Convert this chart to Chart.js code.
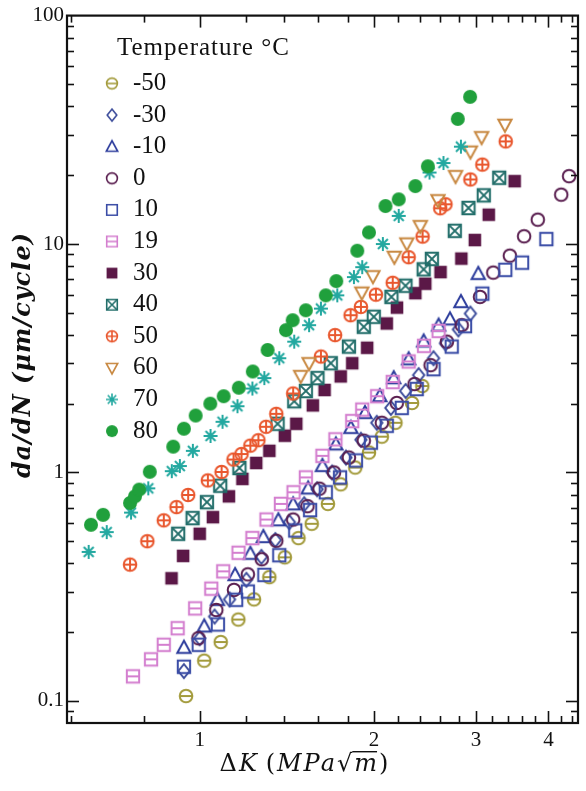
<!DOCTYPE html>
<html><head><meta charset="utf-8">
<script src="https://cdn.jsdelivr.net/npm/chart.js@4"></script>
<style>html,body{margin:0;padding:0;background:#fff;}canvas{display:block;}</style>
</head><body>
<canvas id="c" width="586" height="791"></canvas>
<script>
// ---- data (ΔK in MPa√m, da/dN in μm/cycle) ----
const temps = ['-50','-30','-10','0','10','19','30','40','50','60','70','80'];
const k_m50 = [0.947,1.018,1.087,1.166,1.241,1.319,1.403,1.481,1.561,1.665,1.752,1.856,1.960,2.063,2.178,2.326,2.423];
const v_m50 = [0.105,0.150,0.181,0.227,0.278,0.348,0.425,0.516,0.596,0.728,0.887,1.051,1.222,1.434,1.650,2.015,2.389];
const k_m30 = [0.939,1.000,1.061,1.126,1.204,1.278,1.351,1.428,1.515,1.595,1.693,1.789,1.898,2.022,2.138,2.268,2.388,2.534,2.657,2.797,2.934];
const v_m30 = [0.135,0.188,0.234,0.278,0.339,0.427,0.506,0.606,0.726,0.844,1.000,1.162,1.391,1.650,1.917,2.273,2.668,3.162,3.675,4.228,4.963];
const k_m10 = [0.939,1.018,1.073,1.151,1.223,1.288,1.367,1.450,1.539,1.629,1.718,1.824,1.929,2.046,2.163,2.295,2.436,2.585,2.705,2.825,3.027];
const v_m10 = [0.171,0.212,0.277,0.356,0.441,0.522,0.618,0.726,0.852,1.069,1.328,1.569,1.823,2.162,2.588,3.131,3.749,4.400,4.683,5.578,7.407];
const k_0 = [0.995,1.068,1.146,1.211,1.280,1.356,1.450,1.535,1.610,1.706,1.810,1.920,2.063,2.189,2.350,2.504,2.672,2.834,3.048,3.213,3.432,3.632,3.835,4.210,4.343];
const v_0 = [0.188,0.250,0.306,0.358,0.417,0.502,0.622,0.712,0.849,1.000,1.162,1.378,1.650,2.015,2.438,2.949,3.738,4.413,5.866,7.496,8.895,10.81,12.78,16.45,19.82];
const k_10 = [0.939,0.996,1.075,1.156,1.211,1.293,1.372,1.462,1.551,1.651,1.747,1.861,1.975,2.104,2.233,2.370,2.534,2.724,2.872,3.076,3.370,3.603,3.968];
const v_10 = [0.141,0.176,0.216,0.277,0.301,0.356,0.434,0.557,0.684,0.819,0.951,1.128,1.350,1.601,1.917,2.319,2.833,3.555,4.370,6.063,7.708,8.287,10.51];
const k_19 = [0.767,0.824,0.867,0.916,0.982,1.047,1.098,1.167,1.233,1.304,1.381,1.452,1.525,1.629,1.715,1.834,1.908,2.025,2.154,2.295,2.440,2.585];
const v_19 = [0.128,0.152,0.176,0.208,0.254,0.310,0.369,0.445,0.516,0.622,0.728,0.819,0.951,1.182,1.396,1.678,1.884,2.156,2.487,3.060,3.584,4.165];
const k_30 = [0.894,0.936,1.000,1.054,1.123,1.185,1.252,1.319,1.403,1.468,1.568,1.643,1.752,1.834,1.946,2.104,2.191,2.357,2.452,2.605,2.830,2.986,3.156,3.498];
const v_30 = [0.344,0.431,0.539,0.637,0.786,0.937,1.100,1.243,1.448,1.633,1.966,2.296,2.633,3.007,3.513,4.488,5.269,6.093,6.700,7.534,8.635,10.41,13.44,18.85];
const k_40 = [0.918,0.972,1.029,1.085,1.171,1.363,1.456,1.525,1.597,1.684,1.810,1.920,1.998,2.143,2.266,2.436,2.517,2.757,2.911,3.094,3.290];
const v_40 = [0.539,0.631,0.741,0.875,1.046,1.633,2.050,2.273,2.588,3.007,3.555,4.342,4.801,5.866,6.569,7.746,8.608,11.42,14.38,16.33,19.50];
const k_50 = [0.758,0.812,0.867,0.912,0.955,1.033,1.091,1.144,1.181,1.223,1.263,1.302,1.356,1.450,1.619,1.713,1.822,1.898,2.015,2.154,2.295,2.426,2.602,2.657,2.934,3.076,3.376];
const v_50 = [0.395,0.500,0.617,0.705,0.797,0.923,1.005,1.139,1.204,1.310,1.384,1.585,1.805,2.217,3.217,3.994,4.878,5.306,6.002,6.767,8.755,10.78,14.34,14.93,19.17,22.27,28.13];
const k_60 = [1.494,1.545,1.905,1.991,2.168,2.278,2.404,2.579,2.765,2.934,3.067,3.365];
const v_60 = [2.642,3.007,6.124,7.224,8.780,10.05,11.97,15.54,19.82,25.37,29.34,33.24];
const k_70 = [0.643,0.691,0.761,0.815,0.895,0.924,0.973,1.044,1.095,1.162,1.233,1.293,1.372,1.456,1.545,1.619,1.728,1.846,1.908,2.071,2.206,2.494,2.636,2.825];
const v_70 = [0.449,0.548,0.667,0.852,1.013,1.067,1.243,1.444,1.666,1.950,2.330,2.588,3.162,3.738,4.413,5.217,5.960,7.166,7.919,10.0,13.28,20.56,22.62,26.68];
const k_80 = [0.649,0.681,0.758,0.773,0.786,0.820,0.900,0.939,0.984,1.043,1.100,1.168,1.235,1.310,1.409,1.447,1.525,1.651,1.721,1.871,1.960,2.093,2.206,2.357,2.477,2.790,2.930];
const v_80 = [0.590,0.652,0.735,0.786,0.841,1.007,1.297,1.554,1.775,2.001,2.156,2.349,2.768,3.437,4.198,4.640,5.129,5.960,6.883,9.35,11.24,14.67,15.69,17.93,21.90,35.3,44.1];

const X_LABELS = [1,2,3,4];
const Y_LABELS = [0.1,1,10,100];
const X_MIN = 0.59, X_MAX = 4.5, Y_MIN = 0.08, Y_MAX = 100;

const seriesK = [k_m50,k_m30,k_m10,k_0,k_10,k_19,k_30,k_40,k_50,k_60,k_70,k_80];
const seriesV = [v_m50,v_m30,v_m10,v_0,v_10,v_19,v_30,v_40,v_50,v_60,v_70,v_80];

// ---- styles ----
const colors = ['#a39b3c','#3b4b9a','#2c3c9c','#5a1f50','#3a4ca6','#d47fcf','#5b1847','#226e6a','#e9582f','#c88942','#23a8a0','#20a03c'];
const markers = ['circleH','diamond','triangle','circle','square','squareH','squareFilled','squareX','circlePlus','triangleDown','asterisk','circleFilled'];

function makeMarker(type, color, s, lw){
  const pad = 3, W = Math.ceil(s + pad*2);
  const cv = document.createElement('canvas'); cv.width = W; cv.height = W;
  const g = cv.getContext('2d');
  const c = W/2, r = s/2;
  g.strokeStyle = color; g.fillStyle = color; g.lineWidth = lw; g.lineJoin='miter';
  const sq = () => { g.beginPath(); g.rect(c-r*0.88, c-r*0.88, r*1.76, r*1.76); };
  g.beginPath();
  switch(type){
    case 'circle': g.arc(c,c,r*0.9,0,Math.PI*2); g.stroke(); break;
    case 'circleFilled': g.arc(c,c,r,0,Math.PI*2); g.fill(); break;
    case 'circleH': g.arc(c,c,r*0.9,0,Math.PI*2); g.stroke(); g.beginPath(); g.moveTo(c-r*0.9,c); g.lineTo(c+r*0.9,c); g.stroke(); break;
    case 'circlePlus': g.arc(c,c,r*0.9,0,Math.PI*2); g.stroke(); g.beginPath(); g.moveTo(c-r*0.9,c); g.lineTo(c+r*0.9,c); g.moveTo(c,c-r*0.9); g.lineTo(c,c+r*0.9); g.stroke(); break;
    case 'square': sq(); g.stroke(); break;
    case 'squareFilled': g.fillRect(c-r*0.9,c-r*0.9,r*1.8,r*1.8); break;
    case 'squareH': sq(); g.stroke(); g.beginPath(); g.moveTo(c-r*0.88,c); g.lineTo(c+r*0.88,c); g.stroke(); break;
    case 'squareX': sq(); g.stroke(); g.beginPath(); g.moveTo(c-r*0.88,c-r*0.88); g.lineTo(c+r*0.88,c+r*0.88); g.moveTo(c+r*0.88,c-r*0.88); g.lineTo(c-r*0.88,c+r*0.88); g.stroke(); break;
    case 'diamond': g.moveTo(c,c-r); g.lineTo(c+r*0.8,c); g.lineTo(c,c+r); g.lineTo(c-r*0.8,c); g.closePath(); g.stroke(); break;
    case 'triangle': g.moveTo(c,c-r); g.lineTo(c+r*0.95,c+r*0.75); g.lineTo(c-r*0.95,c+r*0.75); g.closePath(); g.stroke(); break;
    case 'triangleDown': g.moveTo(c,c+r); g.lineTo(c+r*0.95,c-r*0.75); g.lineTo(c-r*0.95,c-r*0.75); g.closePath(); g.stroke(); break;
    case 'asterisk':
      for(let i=0;i<4;i++){ const a=i*Math.PI/4; g.moveTo(c-Math.cos(a)*r,c-Math.sin(a)*r); g.lineTo(c+Math.cos(a)*r,c+Math.sin(a)*r); }
      g.stroke(); break;
  }
  return cv;
}
const dataMarkers = markers.map((m,i)=>makeMarker(m, colors[i], 14, 2));
const legendMarkers = markers.map((m,i)=>makeMarker(m, colors[i], 12, 1.6));

const datasets = temps.map((t,i)=>({
  label: t,
  data: seriesK[i].map((k,j)=>({x:k, y:seriesV[i][j]})),
  pointStyle: dataMarkers[i],
  pointRadius: 7,
  borderColor: colors[i],
  backgroundColor: colors[i],
  showLine: false,
  order: temps.length - 1 - i
}));

// minor tick positions
const X_TICKS = []; for(let v=6; v<=44; v+=2) X_TICKS.push(v/10);
const Y_TICKS = []; [0.01,0.1,1,10].forEach(d=>{ for(let m=1;m<=10;m++){ const v=+(m*d).toPrecision(3); if(v>=Y_MIN && v<=Y_MAX && !Y_TICKS.includes(v)) Y_TICKS.push(v);} });

const frameTicks = {
  id:'frameTicks',
  afterDatasetsDraw(chart){
    const {ctx, chartArea:a, scales:{x,y}} = chart;
    ctx.save();
    ctx.strokeStyle = '#111'; ctx.lineWidth = 1.6;
    const ln=(x1,y1,x2,y2)=>{ctx.beginPath();ctx.moveTo(x1,y1);ctx.lineTo(x2,y2);ctx.stroke();};
    X_TICKS.forEach(v=>{
      const px = Math.round(x.getPixelForValue(v))+0.5;
      if(px < a.left+2 || px > a.right-2) return;
      const L = X_LABELS.includes(v) ? 12 : 7;
      ln(px,a.bottom,px,a.bottom-L); ln(px,a.top,px,a.top+L);
    });
    Y_TICKS.forEach(v=>{
      const py = Math.round(y.getPixelForValue(v))+0.5;
      if(py < a.top+2 || py > a.bottom-2) return;
      const L = Y_LABELS.includes(v) ? 12 : 7;
      ln(a.left,py,a.left+L,py); ln(a.right,py,a.right-L,py);
    });
    ctx.lineWidth = 2.2;
    ctx.strokeRect(a.left, a.top, a.right-a.left, a.bottom-a.top);
    ctx.restore();
  }
};

const titlesLegend = {
  id:'titlesLegend',
  afterDraw(chart){
    const ctx = chart.ctx;
    ctx.save();
    ctx.fillStyle = '#111';
    // legend
    ctx.textBaseline = 'middle'; ctx.textAlign = 'left';
    ctx.font = '25px "Liberation Serif"';
    ctx.letterSpacing = '1px';
    ctx.fillText('Temperature \u00B0C', 117, 48);
    ctx.letterSpacing = '0px';
    temps.forEach((t,i)=>{
      const yy = 83.5 + i*31.6;
      const m = legendMarkers[i];
      ctx.drawImage(m, 112 - m.width/2, yy - m.height/2);
      ctx.fillText(t, 133, yy);
    });
    // x title
    const segs = [['\u0394',''],['K','italic '],['\u2009(',''],['MPa','italic '],['\u221A',''],['m','italic '],[')','']];
    const fs = 24, fam = '"DejaVu Serif"';
    ctx.letterSpacing = '2px';
    let tot = 0;
    segs.forEach(s=>{ ctx.font = s[1]+fs+'px '+fam; tot += ctx.measureText(s[0]).width; });
    let xx = 305 - tot/2; const yb = 771;
    ctx.textBaseline = 'alphabetic';
    segs.forEach(s=>{
      ctx.font = s[1]+fs+'px '+fam;
      const w = ctx.measureText(s[0]).width;
      ctx.fillText(s[0], xx, yb);
      if(s[0]==='m'){ ctx.fillRect(xx-2, yb-20, w, 1.4); }
      xx += w;
    });
    // y title
    ctx.translate(24, 355); ctx.rotate(-Math.PI/2);
    ctx.font = 'bold italic 24px '+fam;
    ctx.letterSpacing = '1px';
    ctx.textAlign = 'center'; ctx.textBaseline = 'middle';
    ctx.fillText('da/dN (\u03BCm/cycle)', 0, 0);
    ctx.restore();
  }
};

new Chart(document.getElementById('c'), {
  type:'scatter',
  data:{datasets},
  options:{
    responsive:false, animation:false, devicePixelRatio:1,
    layout:{padding:{top:14, right:6, left:0, bottom:0}},
    plugins:{legend:{display:false}, tooltip:{enabled:false}},
    scales:{
      x:{type:'logarithmic', min:X_MIN, max:X_MAX,
        grid:{display:false, drawTicks:false}, border:{display:false},
        afterBuildTicks(s){ s.ticks = X_LABELS.map(v=>({value:v})); },
        afterFit(s){ s.height = 68; },
        ticks:{autoSkip:false, maxRotation:0, padding:5, color:'#111', font:{family:'"Liberation Serif"', size:21}, callback:(v)=>String(v)}
      },
      y:{type:'logarithmic', min:Y_MIN, max:Y_MAX,
        grid:{display:false, drawTicks:false}, border:{display:false},
        afterBuildTicks(s){ s.ticks = Y_LABELS.map(v=>({value:v})); },
        afterFit(s){ s.width = 67; },
        ticks:{autoSkip:false, padding:3, color:'#111', font:{family:'"Liberation Serif"', size:21}, callback:(v)=>String(v)}
      }
    }
  },
  plugins:[frameTicks, titlesLegend]
});
</script>
</body></html>
